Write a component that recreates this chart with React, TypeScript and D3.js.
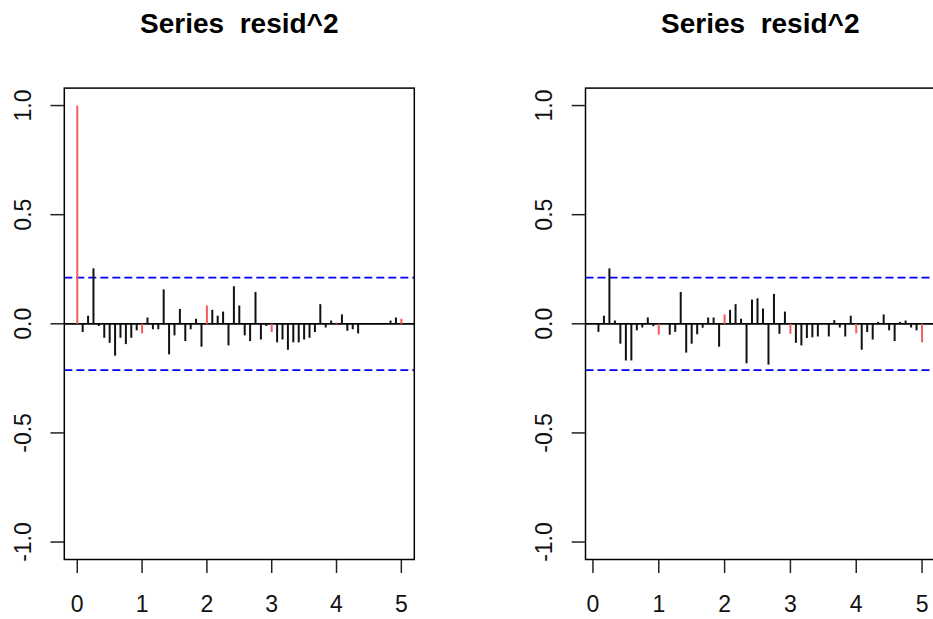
import React from "react";
import * as d3 from "d3";

// ACF of resid^2, lags 0..60 (in units of 1/12)
const acfValues: number[] = [
  1.0, -0.038, 0.037, 0.254, -0.01, -0.064, -0.087, -0.146, -0.064, -0.093,
  -0.064, -0.03, -0.044, 0.029, -0.025, -0.025, 0.158, -0.14, -0.053, 0.068,
  -0.079, -0.025, 0.023, -0.105, 0.084, 0.064, 0.037, 0.056, -0.099, 0.172,
  0.084, -0.053, -0.079, 0.146, -0.072, -0.01, -0.038, -0.085, -0.072, -0.119,
  -0.085, -0.085, -0.072, -0.064, -0.038, 0.09, -0.017, 0.015, 0.006, 0.043,
  -0.032, -0.025, -0.044, 0.002, -0.002, 0.001, -0.001, 0.002, 0.015, 0.029,
  0.023,
];

// PACF of resid^2, lags 1..60 (in units of 1/12)
const pacfValues: number[] = [
  -0.037, 0.037, 0.254, 0.015, -0.091, -0.168, -0.168, -0.03, -0.017, 0.029,
  -0.011, -0.05, 0.003, -0.05, -0.037, 0.146, -0.132, -0.091, -0.048, -0.018,
  0.029, 0.029, -0.105, 0.043, 0.064, 0.09, 0.023, -0.181, 0.111, 0.117,
  0.07, -0.187, 0.137, -0.046, 0.056, -0.046, -0.087, -0.099, -0.065, -0.062,
  -0.058, 0.002, -0.058, 0.017, -0.017, -0.058, 0.037, -0.044, -0.119, -0.038,
  -0.072, 0.009, 0.043, -0.03, -0.079, 0.009, 0.015, -0.017, -0.03, -0.085,
];

const frequency = 12;
const confLimit = 0.212;
const xTicks = [0, 1, 2, 3, 4, 5];
const yTicks = [1.0, 0.5, 0.0, -0.5, -1.0];
const yTickLabels = ["1.0", "0.5", "0.0", "-0.5", "-1.0"];
const titleText = "Series  resid^2";

const W = 933;
const H = 619;
const FONT = "'Liberation Sans', Arial, sans-serif";

type PanelProps = {
  values: number[];
  firstLag: number;
  left: number;
  right: number;
};

function Panel({ values, firstLag, left, right }: PanelProps) {
  const top = 88.1;
  const bottom = 559.5;
  const lags = values.map((_, i) => (i + firstLag) / frequency);
  const lo = d3.min(lags)!;
  const hi = d3.max(lags)!;
  const pad = (hi - lo) * 0.04;
  const x = d3.scaleLinear().domain([lo - pad, hi + pad]).range([left, right]);
  const y = d3.scaleLinear().domain([-1.08, 1.08]).range([bottom, top]);
  const cx = (left + right) / 2;

  return (
    <g>
      <text
        x={cx}
        y={33}
        textAnchor="middle"
        fontFamily={FONT}
        fontWeight="bold"
        fontSize={28}
        style={{ whiteSpace: "pre" }}
        xmlSpace="preserve"
      >
        {titleText}
      </text>
      {/* confidence limits */}
      {[confLimit, -confLimit].map((c) => (
        <line
          key={c}
          x1={left}
          x2={right}
          y1={y(c)}
          y2={y(c)}
          stroke="#0000ff"
          strokeWidth={1.8}
          strokeDasharray="8,4"
        />
      ))}
      {/* zero line */}
      <line x1={left} x2={right} y1={y(0)} y2={y(0)} stroke="#000" strokeWidth={1.8} />
      {/* bars */}
      {values.map((v, i) => {
        const lagIndex = i + firstLag;
        const red = lagIndex % frequency === 0;
        return (
          <line
            key={i}
            x1={x(lags[i])}
            x2={x(lags[i])}
            y1={y(0)}
            y2={y(v)}
            stroke={red ? "#f25c5c" : "#111"}
            strokeWidth={2}
          />
        );
      })}
      {/* box */}
      <rect
        x={left}
        y={top}
        width={right - left}
        height={bottom - top}
        fill="none"
        stroke="#000"
        strokeWidth={1.5}
      />
      {/* x axis */}
      {xTicks.map((t) => (
        <g key={t}>
          <line x1={x(t)} x2={x(t)} y1={bottom} y2={bottom + 13.5} stroke="#222" strokeWidth={1.5} />
          <text x={x(t)} y={611.5} textAnchor="middle" fontFamily={FONT} fontSize={23} fill="#111">
            {t}
          </text>
        </g>
      ))}
      {/* y axis */}
      {yTicks.map((t, i) => (
        <g key={t}>
          <line x1={left - 13.8} x2={left} y1={y(t)} y2={y(t)} stroke="#222" strokeWidth={1.5} />
          <text
            transform={`translate(${left - 33.8},${y(t)}) rotate(-90)`}
            textAnchor="middle"
            fontFamily={FONT}
            fontSize={23}
            fill="#111"
          >
            {yTickLabels[i]}
          </text>
        </g>
      ))}
    </g>
  );
}

export default function App() {
  return (
    <svg
      width={W}
      height={H}
      style={{ position: "fixed", left: 0, top: 0, background: "#fff" }}
    >
      <rect x={0} y={0} width={W} height={H} fill="#fff" />
      <Panel values={acfValues} firstLag={0} left={64.3} right={414.3} />
      <Panel values={pacfValues} firstLag={1} left={585.5} right={935} />
    </svg>
  );
}
